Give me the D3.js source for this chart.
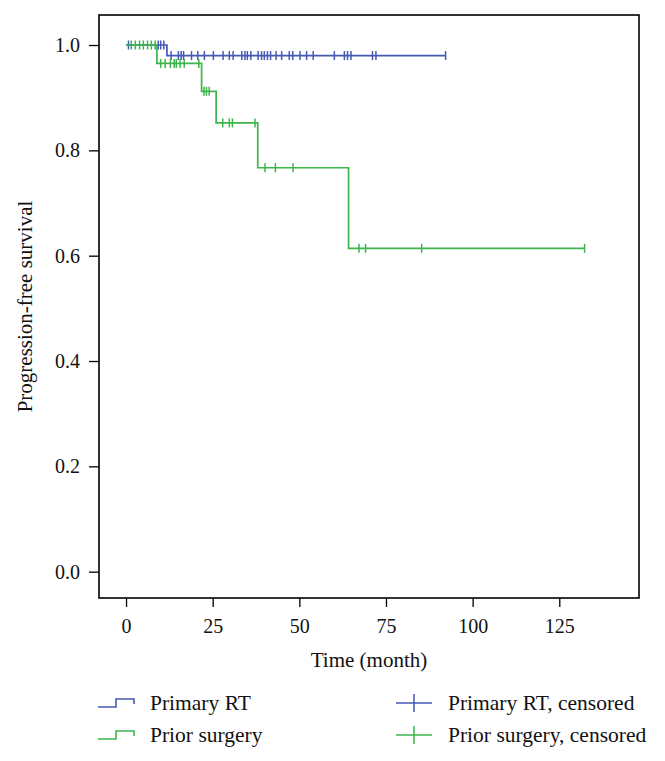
<!DOCTYPE html>
<html><head><meta charset="utf-8">
<script src="https://cdn.jsdelivr.net/npm/d3@7"></script>
<style>body{margin:0;background:#fff;} svg{display:block;} text{font-family:"Liberation Serif","Times New Roman",serif;fill:#111;}</style>
</head><body>
<svg id="chart" width="665" height="761"></svg>
<script>
// ---- data ----
const xTicks = [0, 25, 50, 75, 100, 125];
const yTicks = [0.0, 0.2, 0.4, 0.6, 0.8, 1.0];

const rtStepTimes = [0, 11.8];
const rtStepSurv  = [1.0, 0.980];
const rtEnd = 92.2;
const rtCensored = [0.7, 9.3, 10.0, 10.9, 13.0, 15.1, 15.9, 16.6, 18.9, 20.7, 22.6, 25.2, 28.0, 29.8, 30.9, 33.4, 34.3, 35.0, 36.0, 38.1, 39.1, 39.9, 40.8, 41.7, 43.3, 44.9, 47.1, 48.1, 50.2, 52.1, 54.0, 60.1, 63.0, 63.9, 64.9, 71.1, 72.1, 92.2];

const surgStepTimes = [0, 8.9, 21.8, 26.0, 38.0, 64.2];
const surgStepSurv  = [1.0, 0.965, 0.912, 0.852, 0.767, 0.614];
const surgEnd = 132.3;
const surgCensored = [1.5, 2.7, 3.9, 5.0, 6.2, 7.3, 8.4, 10.0, 11.3, 12.8, 13.9, 14.5, 15.6, 16.8, 21.0, 22.5, 23.2, 24.0, 27.9, 29.8, 30.7, 37.2, 40.1, 43.1, 48.2, 67.2, 69.1, 85.3, 132.3];

const seriesNames = ["Primary RT", "Prior surgery"];
const legendLabels = ["Primary RT", "Prior surgery", "Primary RT, censored", "Prior surgery, censored"];
const colors = ["#4459b3", "#3db54c"];

// ---- layout ----
const L = 99, R = 639, T = 15, B = 598;
const svg = d3.select("#chart");
const x = d3.scaleLinear().domain([-7.8, 148]).range([L, R]);
const y = d3.scaleLinear().domain([-0.05, 1.057]).range([B, T]);

function survAt(times, surv, t){ let s = surv[0]; for(let i=0;i<times.length;i++){ if(t>=times[i]) s = surv[i]; } return s; }

const series = [
  {times: rtStepTimes, surv: rtStepSurv, end: rtEnd, cens: rtCensored, color: colors[0]},
  {times: surgStepTimes, surv: surgStepSurv, end: surgEnd, cens: surgCensored, color: colors[1]}
];

const plot = svg.append("g");
series.forEach(s => {
  const pts = s.times.map((t,i)=>[t, s.surv[i]]);
  pts.push([s.end, s.surv[s.surv.length-1]]);
  const line = d3.line().x(d=>x(d[0])).y(d=>y(d[1])).curve(d3.curveStepAfter);
  plot.append("path").attr("d", line(pts)).attr("fill","none").attr("stroke", s.color).attr("stroke-width",1.7);
  plot.selectAll(null).data(s.cens).enter().append("line")
    .attr("x1", d=>x(d)).attr("x2", d=>x(d))
    .attr("y1", d=>y(survAt(s.times, s.surv, d))-4.5)
    .attr("y2", d=>y(survAt(s.times, s.surv, d))+4.5)
    .attr("stroke", s.color).attr("stroke-width",1.5);
});

// frame
svg.append("rect").attr("x",L).attr("y",T).attr("width",R-L).attr("height",B-T)
  .attr("fill","none").attr("stroke","#000").attr("stroke-width",1.6);

// axes
const xAxis = d3.axisBottom(x).tickValues(xTicks).tickSize(9).tickPadding(12).tickFormat(d3.format("d"));
const gx = svg.append("g").attr("transform",`translate(0,${B})`).call(xAxis);
gx.select(".domain").remove();
gx.selectAll("line").attr("stroke","#000").attr("stroke-width",1.3);
gx.selectAll("text").attr("font-size",20).attr("font-family","Liberation Serif").attr("fill","#111");

const yAxis = d3.axisLeft(y).tickValues(yTicks).tickSize(10).tickPadding(9).tickFormat(d3.format(".1f"));
const gy = svg.append("g").attr("transform",`translate(${L},0)`).call(yAxis);
gy.select(".domain").remove();
gy.selectAll("line").attr("stroke","#000").attr("stroke-width",1.3);
gy.selectAll("text").attr("font-size",20).attr("font-family","Liberation Serif").attr("fill","#111");

svg.append("text").attr("x",(L+R)/2).attr("y",667).attr("text-anchor","middle").attr("font-size",21).text("Time (month)");
svg.append("text").attr("transform",`translate(32,${(T+B)/2}) rotate(-90)`).attr("text-anchor","middle").attr("font-size",21).text("Progression-free survival");

// legend
const leg = svg.append("g");
const rows = [703, 735];
seriesNames.forEach((n,i)=>{
  const cy = rows[i];
  leg.append("path").attr("d",`M98,${cy+4}H116V${cy-4}H134V${cy+1}`).attr("fill","none").attr("stroke",colors[i]).attr("stroke-width",1.6);
  leg.append("text").attr("x",150).attr("y",cy+7).attr("font-size",21.5).text(legendLabels[i]);
  leg.append("line").attr("x1",396).attr("x2",432).attr("y1",cy).attr("y2",cy).attr("stroke",colors[i]).attr("stroke-width",1.5);
  leg.append("line").attr("x1",414).attr("x2",414).attr("y1",cy-9).attr("y2",cy+9).attr("stroke",colors[i]).attr("stroke-width",1.5);
  leg.append("text").attr("x",448).attr("y",cy+7).attr("font-size",21.5).text(legendLabels[i+2]);
});
</script>
</body></html>
